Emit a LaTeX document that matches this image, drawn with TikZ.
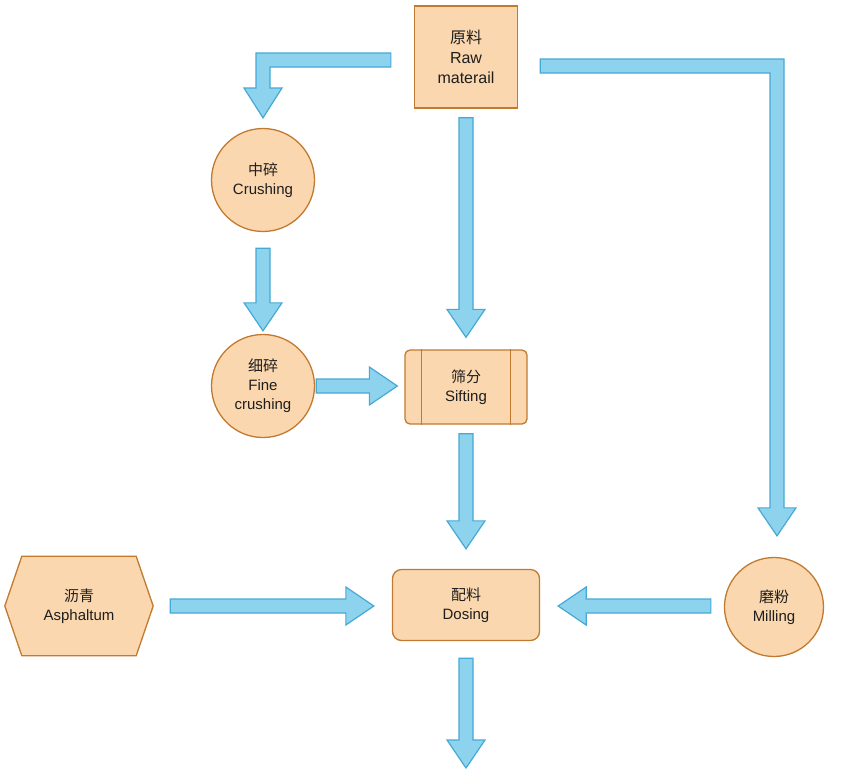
\documentclass[tikz,border=0pt]{standalone}
\usepackage{fontspec}
\setmainfont{Liberation Sans}
\newfontfamily\cjk{Noto Sans CJK SC}
\usetikzlibrary{calc,backgrounds}
\definecolor{ofill}{HTML}{FAD7AE}
\definecolor{oline}{HTML}{C27A30}
\definecolor{bfill}{HTML}{8ED3EE}
\definecolor{bline}{HTML}{45A9D6}
\definecolor{txt}{HTML}{1E1E1E}
\tikzset{
  lbl/.style={font=\fontsize{15}{19}\selectfont, text=txt, align=center},
  proc/.style={lbl, draw=oline, fill=ofill, line width=1.3pt},
  barrowstyle/.style={draw=bline, fill=bfill, line width=1.2pt, line join=miter},
}
\newcommand\barrow[2]{%
  \draw[barrowstyle] let \p1=(#1), \p2=(#2),
    \n1={atan2(\y2-\y1,\x2-\x1)}, \n2={veclen(\x2-\x1,\y2-\y1)} in
    [shift={(\p1)}, rotate=\n1]
    (0pt,-7pt) -- (\n2-28pt,-7pt) -- (\n2-28pt,-19pt) -- (\n2,0pt) --
    (\n2-28pt,19pt) -- (\n2-28pt,7pt) -- (0pt,7pt) -- cycle;}
\begin{document}
\begin{tikzpicture}[x=1pt,y=-1pt]
\useasboundingbox (0,0) rectangle (846,772);
% nodes
\node[proc, rectangle, minimum width=103pt, minimum height=102pt, font=\fontsize{16}{20}\selectfont] (raw) at (466,57) {{\cjk 原料}\\Raw\\materail};
\node[proc, circle, minimum size=103pt, inner sep=0pt] (crush) at (263,180) {{\cjk 中碎}\\Crushing};
\node[proc, circle, minimum size=103pt, inner sep=0pt] (fine) at (263,386) {{\cjk 细碎}\\Fine\\crushing};
\node[proc, rectangle, rounded corners=5pt, minimum width=122pt, minimum height=74pt] (sift) at (466,387) {{\cjk 筛分}\\Sifting};
\draw[oline, line width=1.3pt] ($(sift.north west)+(17,0)$) -- ($(sift.south west)+(17,0)$);
\draw[oline, line width=1.3pt] ($(sift.north east)+(-17,0)$) -- ($(sift.south east)+(-17,0)$);
\node[proc, rectangle, rounded corners=9pt, minimum width=147pt, minimum height=71pt] (dose) at (466,605) {{\cjk 配料}\\Dosing};
\node[lbl, minimum width=148pt, minimum height=99pt] (asph) at (79,606) {{\cjk 沥青}\\Asphaltum};
\begin{scope}[on background layer]
\path[proc] (asph.west) -- ($(asph.north west)+(17,0)$) -- ($(asph.north east)+(-17,0)$) -- (asph.east)
  -- ($(asph.south east)+(-17,0)$) -- ($(asph.south west)+(17,0)$) -- cycle;
\end{scope}
\node[proc, circle, minimum size=99pt, inner sep=0pt] (mill) at (774,607) {{\cjk 磨粉}\\Milling};
% coordinates for arrows
\coordinate (a1s) at ($(raw.west)+(-23,3)$);
\coordinate (a1c) at (a1s -| crush.north);
\coordinate (a1t) at ($(crush.north)+(0,-10)$);
\coordinate (a2s) at ($(raw.east)+(22,9)$);
\coordinate (a2c) at (a2s -| mill.north);
\coordinate (a2t) at ($(mill.north)+(3,-21)$);
% bent arrows
\draw[barrowstyle] ($(a1s)+(0,-7)$) -- ($(a1c)+(-7,-7)$) -- ($(a1c)+(-7,28)$) -- ($(a1c)+(-19,28)$)
  -- (a1t) -- ($(a1c)+(19,28)$) -- ($(a1c)+(7,28)$) -- ($(a1c)+(7,7)$) -- ($(a1s)+(0,7)$) -- cycle;
\draw[barrowstyle] ($(a2s)+(0,-7)$) -- ($(a2c)+(10,-7)$) -- ($(a2t)+(7,-28)$) -- ($(a2t)+(19,-28)$)
  -- (a2t) -- ($(a2t)+(-19,-28)$) -- ($(a2t)+(-7,-28)$) -- ($(a2c)+(-4,7)$) -- ($(a2s)+(0,7)$) -- cycle;
% straight arrows
\coordinate (a3s) at ($(raw.south)+(0,9)$);
\coordinate (a3t) at ($(sift.north)+(0,-12)$);
\barrow{a3s}{a3t}
\coordinate (a4s) at ($(crush.south)+(0,16)$);
\coordinate (a4t) at ($(fine.north)+(0,-3)$);
\barrow{a4s}{a4t}
\coordinate (a5s) at ($(fine.east)+(1,0)$);
\coordinate (a5t) at ($(sift.west)+(-7,-1)$);
\barrow{a5s}{a5t |- a5s}
\coordinate (a6s) at ($(sift.south)+(0,9)$);
\coordinate (a6t) at ($(dose.north)+(0,-20)$);
\barrow{a6s}{a6t}
\coordinate (a7s) at ($(asph.east)+(17,0)$);
\coordinate (a7t) at ($(dose.west)+(-18,1)$);
\barrow{a7s}{a7t |- a7s}
\coordinate (a8s) at ($(mill.west)+(-13,-1)$);
\coordinate (a8t) at ($(dose.east)+(18,0)$);
\barrow{a8s}{a8t |- a8s}
\coordinate (a9s) at ($(dose.south)+(0,17)$);
\coordinate (a9t) at (466,768);
\barrow{a9s}{a9t}
\end{tikzpicture}
\end{document}
